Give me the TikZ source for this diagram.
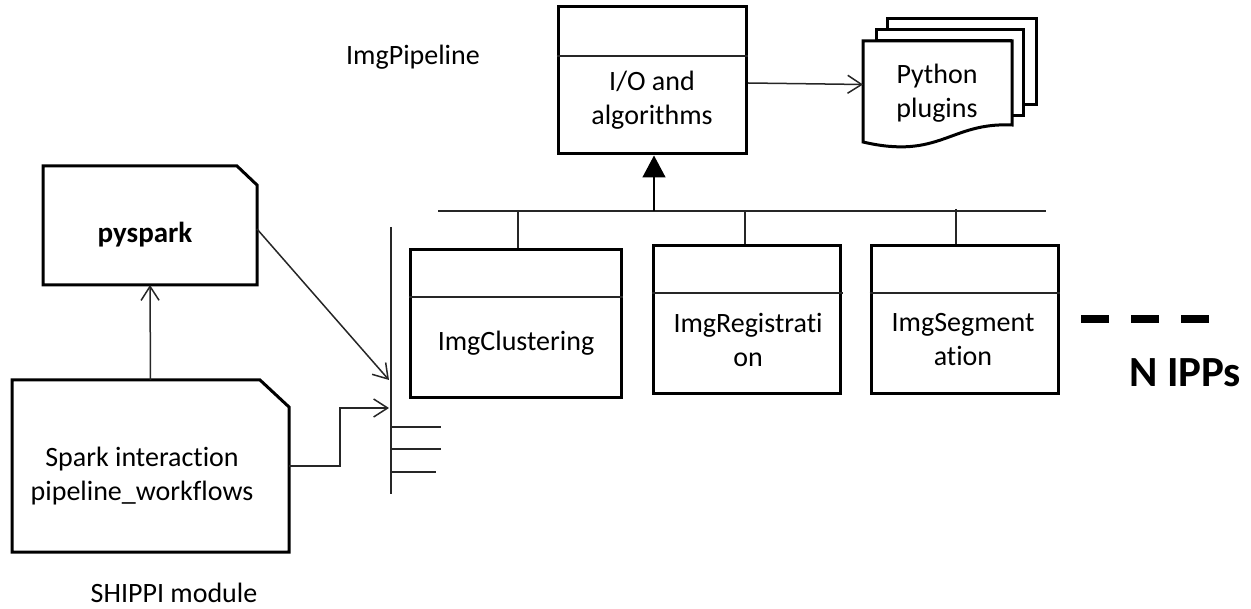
\documentclass[tikz,border=0pt]{standalone}
\usepackage{fontspec}
\setmainfont[Ligatures=NoCommon]{Carlito}
\usetikzlibrary{arrows.meta}
\tikzset{
  boxed/.style={draw=black, line width=3pt, fill=white, rectangle, inner sep=0pt},
  ghost/.style={rectangle, inner sep=0pt, outer sep=0pt},
  frame/.style={draw=black, line width=3pt, fill=white, line join=miter},
  label/.style={align=center, inner sep=0pt, font=\fontsize{28}{34}\selectfont},
  wire/.style={line width=1.5pt, draw=black!85},
  openarrow/.style={wire, -{Straight Barb[length=14pt,width=18pt,line width=1.5pt]}},
  page/.style={draw=black, line width=3pt, fill=white, line join=miter}
}
\begin{document}
\begin{tikzpicture}[x=1pt,y=-1pt]
\useasboundingbox (0,0) rectangle (1251,609);
\node[ghost, minimum width=214pt, minimum height=119pt] (pyspark) at (150,225.5) {};
\node[ghost, minimum width=277pt, minimum height=172pt] (spark) at (150.5,466) {};
\draw[frame] (pyspark.north west) -- ([xshift=-20pt]pyspark.north east) -- ([yshift=-19pt]pyspark.north east) -- (pyspark.south east) -- (pyspark.south west) -- cycle;
\draw[frame] (spark.north west) -- ([xshift=-29pt]spark.north east) -- ([yshift=-27pt]spark.north east) -- (spark.south east) -- (spark.south west) -- cycle;
\node[label, font=\fontsize{29}{34}\selectfont\bfseries] (pysparkText) at (145,235) {pyspark};
\node[label] (sparkText) at (142,476) {Spark interaction\\pipeline\_workflows};
\node[inner sep=0pt, font=\fontsize{28}{24}\selectfont] (shippi) at (174,593) {SHIPPI module};
\node[label] (imgPipeline) at (413,57) {ImgPipeline};
\node[boxed, minimum width=188pt, minimum height=147pt] (ioBox) at (652,80.5) {};
\node[boxed, minimum width=211pt, minimum height=148pt] (clusteringBox) at (515.5,324) {};
\node[boxed, minimum width=187pt, minimum height=148pt] (registrationBox) at (746.5,320) {};
\node[boxed, minimum width=187pt, minimum height=148pt] (segmentationBox) at (964.5,320) {};
\node[label] (ioText) at (652,100) {I/O and\\algorithms};
\node[label] (clusteringText) at (516,343) {ImgClustering};
\node[label] (registrationText) at (748,340) {ImgRegistrati\\on};
\node[label] (segmentationText) at (963,340) {ImgSegment\\ation};
\node[label, font=\fontsize{43}{48}\selectfont\bfseries] (nIpps) at (1185,373) {N IPPs};
\draw[wire] (ioBox.west |- 0,56) -- (ioBox.east |- 0,56);
\draw[wire] (clusteringBox.west |- 0,297) -- (clusteringBox.east |- 0,297);
\draw[wire] (registrationBox.west |- 0,293) -- (843,293);
\draw[wire] (segmentationBox.west |- 0,293) -- (segmentationBox.east |- 0,293);
\draw[page] (887,19) -- (1036,19) -- (1036,105) -- (1020,105) -- (1020,30) -- (887,30) -- cycle;
\draw[page] (876,30) -- (1023,30) -- (1023,116) -- (1010,116) -- (1010,41) -- (876,41) -- cycle;
\draw[page] (863,41) -- (1012,41) -- (1012,125) .. controls (950,122) and (940,160) .. (863,142) -- cycle;
\node[label] (plugins) at (937,93) {Python\\plugins};
\coordinate (pluginsIn) at (863,84.5);
\coordinate (ioOut) at (748,83);
\draw[openarrow] (ioOut) -- (pluginsIn);
\coordinate (busLeft) at (438,211);
\coordinate (busRight) at (1046,211);
\coordinate (busMid) at (654,211);
\draw[wire] (busLeft) -- (busRight);
\draw[line width=1.5pt, draw=black, fill=black, -{Triangle[length=22pt,width=23pt]}] (busMid) -- (busMid |- ioBox.south);
\coordinate (stemA) at (518,211);
\coordinate (stemB) at (745,211);
\coordinate (stemC) at (956,209);
\draw[wire] (stemA) -- (stemA |- clusteringBox.north);
\draw[wire] (stemB) -- (stemB |- registrationBox.north);
\draw[wire] (stemC) -- (stemC |- segmentationBox.north);
\coordinate (railTop) at (391,227);
\coordinate (railBottom) at (391,494);
\draw[wire] (railTop) -- (railBottom);
\coordinate (tickA) at (441,427);
\coordinate (tickB) at (441,449);
\coordinate (tickC) at (436,472);
\draw[wire] (railTop |- tickA) -- (tickA);
\draw[wire] (railTop |- tickB) -- (tickB);
\draw[wire] (railTop |- tickC) -- (tickC);
\draw[openarrow] (spark.north) -- (pyspark.south);
\coordinate (railInA) at (389,380);
\coordinate (railInB) at (389,408);
\coordinate (bendB) at (340,408);
\draw[openarrow] ([yshift=-3.5pt]pyspark.east) -- (railInA);
\draw[openarrow] (spark.east) -| (bendB) -- (railInB);
\coordinate (dashStart) at (1081,319);
\coordinate (dashEnd) at (1210,319);
\draw[line width=8pt, dash pattern=on 28pt off 22pt] (dashStart) -- (dashEnd);
\end{tikzpicture}
\end{document}
